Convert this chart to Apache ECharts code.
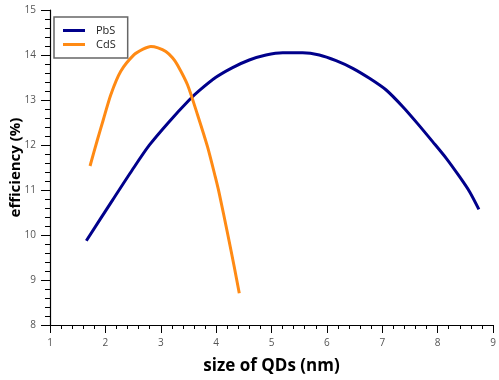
<!DOCTYPE html>
<html>
<head>
<meta charset="utf-8">
<script src="https://cdn.jsdelivr.net/npm/echarts@6/dist/echarts.min.js"></script>
<style>html,body{margin:0;padding:0;background:#fff}#c{width:499px;height:380px}</style>
</head>
<body>
<div id="c"></div>
<script>
const seriesNames = ['PbS', 'CdS'];
const pbsX = [1.656, 2.127, 2.488, 2.790, 3.152, 3.514, 3.694, 3.996, 4.297, 4.599, 4.901, 5.201, 5.562, 5.864, 6.166, 6.467, 6.769, 7.071, 7.371, 7.642, 7.913, 8.156, 8.396, 8.577, 8.745];
const pbsY = [9.873, 10.77, 11.45, 11.99, 12.518, 13.0, 13.207, 13.504, 13.72, 13.889, 14.0, 14.051, 14.051, 14.0, 13.873, 13.704, 13.482, 13.222, 12.851, 12.47, 12.07, 11.704, 11.296, 10.962, 10.571];
const cdsX = [1.723, 1.855, 1.96, 2.098, 2.278, 2.519, 2.68, 2.821, 2.95, 3.092, 3.212, 3.302, 3.483, 3.664, 3.844, 3.984, 4.056, 4.206, 4.327, 4.418];
const cdsY = [11.533, 12.111, 12.55, 13.118, 13.638, 14.007, 14.13, 14.19, 14.16, 14.08, 13.94, 13.78, 13.34, 12.673, 11.962, 11.296, 10.926, 10.04, 9.296, 8.704];
const xTicks = [1, 2, 3, 4, 5, 6, 7, 8, 9];
const yTicks = [8, 9, 10, 11, 12, 13, 14, 15];

const zip = (xs, ys) => xs.map((x, i) => [x, ys[i]]);
const font = 'Open Sans';
const chart = echarts.init(document.getElementById('c'));
chart.setOption({
  animation: false,
  backgroundColor: '#fff',
  grid: { left: 50, right: 6, top: 10, bottom: 55, containLabel: false, outerBoundsMode: 'none' },
  legend: {
    orient: 'vertical', left: 54, top: 17,
    data: seriesNames,
    icon: 'rect', itemWidth: 22, itemHeight: 3, itemGap: 3,
    padding: [8, 12, 8, 9],
    borderColor: '#666', borderWidth: 1.5, borderRadius: 0,
    textStyle: { fontFamily: font, fontSize: 11, color: '#222', padding: [0, 0, 0, 6] }
  },
  xAxis: {
    type: 'value', min: xTicks[0], max: xTicks[xTicks.length - 1], interval: 1,
    name: 'size of QDs (nm)', nameLocation: 'middle', nameGap: 33, nameMoveOverlap: false,
    nameTextStyle: { fontFamily: font, fontSize: 17, fontWeight: 'bold', color: '#000' },
    axisLine: { show: true, onZero: false, lineStyle: { color: '#000', width: 1.2 } },
    axisTick: { show: true, length: 8, lineStyle: { color: '#000' } },
    minorTick: { show: true, splitNumber: 5, length: 4, lineStyle: { color: '#000' } },
    axisLabel: { fontFamily: font, fontSize: 10, color: '#555', margin: 13 },
    splitLine: { show: false }
  },
  yAxis: {
    type: 'value', min: yTicks[0], max: yTicks[yTicks.length - 1], interval: 1,
    name: 'efficiency (%)', nameLocation: 'middle', nameGap: 27, nameMoveOverlap: false,
    nameTextStyle: { fontFamily: font, fontSize: 15, fontWeight: 'bold', color: '#000' },
    axisLine: { show: true, onZero: false, lineStyle: { color: '#000', width: 1.2 } },
    axisTick: { show: true, length: 9, lineStyle: { color: '#000' } },
    minorTick: { show: true, splitNumber: 5, length: 5, lineStyle: { color: '#000' } },
    axisLabel: { fontFamily: font, fontSize: 10, color: '#555', margin: 14 },
    splitLine: { show: false }
  },
  series: [
    { name: seriesNames[0], type: 'line', data: zip(pbsX, pbsY), showSymbol: false, smooth: 0.25,
      lineStyle: { color: '#00008b', width: 3 }, itemStyle: { color: '#00008b' } },
    { name: seriesNames[1], type: 'line', data: zip(cdsX, cdsY), showSymbol: false, smooth: 0.25,
      lineStyle: { color: '#ff8a14', width: 3 }, itemStyle: { color: '#ff8a14' } }
  ]
});
</script>
</body>
</html>
